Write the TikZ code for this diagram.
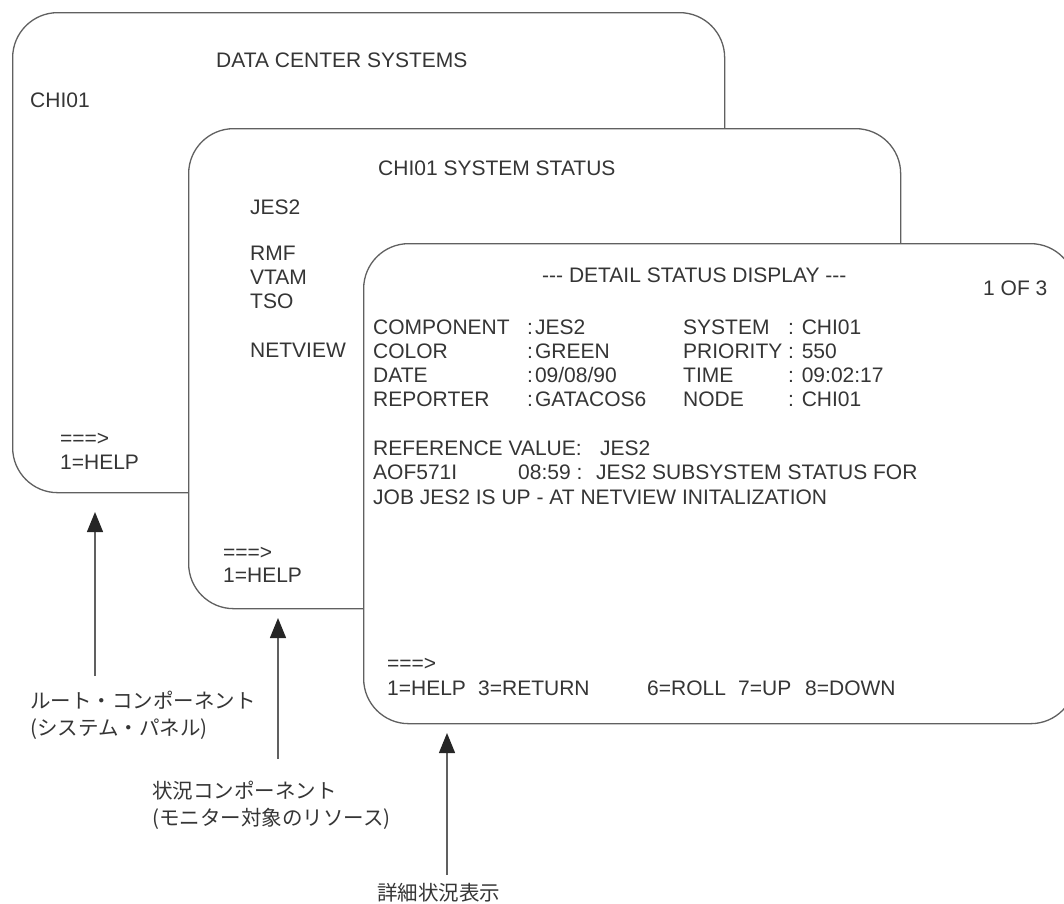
\documentclass[tikz,border=0pt]{standalone}
\usepackage{fontspec}
\setmainfont{Liberation Sans}
\newfontfamily\jpfont{Noto Sans CJK JP}
\usetikzlibrary{arrows.meta}
\definecolor{linegray}{HTML}{606060}
\definecolor{textgray}{HTML}{353535}
\tikzset{
  panel/.style = {draw=linegray, fill=white, line width=1.3pt, rounded corners=45pt, anchor=north west, inner sep=0pt, minimum width=712pt, minimum height=480pt},
  txt/.style = {anchor=base west, inner sep=0pt, text=textgray, font=\fontsize{21}{24}\selectfont},
  jtxt/.style = {anchor=north west, inner xsep=0pt, align=left, text=textgray, font=\jpfont\fontsize{20.5}{27}\selectfont},
  pointer/.style = {draw=linegray, line width=1.3pt, -{Triangle[length=20pt, width=16pt, color=black!85]}},
}
\newcommand{\fld}[2]{\makebox[#1][l]{#2}}
\newcommand{\dashes}{-\kern0pt-\kern0pt-}

\begin{document}
\begin{tikzpicture}[x=1pt, y=-1pt]
\useasboundingbox (0,0) rectangle (1064,903);

\node [panel] (rootpanel) at (12,12) {};
\node [txt] (roottitle) at (216,67.5) {DATA CENTER SYSTEMS};
\node [txt] (rootsys) at (30,107.5) {CHI01};
\node [txt] (rootcmd) at (60,445) {===>};
\node [txt] (rootkeys) at (60,469.5) {1=HELP};

\node [panel] (statuspanel) at (188,128) {};
\node [txt] (statustitle) at (378,175.5) {CHI01 SYSTEM STATUS};
\foreach \res/\yy in {JES2/214, RMF/260.5, VTAM/284.5, TSO/308.5, NETVIEW/357.5}
  \node [txt] (res-\res) at (250,\yy) {\res};
\node [txt] (statuscmd) at (223,559) {===>};
\node [txt] (statuskeys) at (223,582.5) {1=HELP};

\node [panel] (detailpanel) at (363,243) {};
\node [txt] (detailtitle) at (542,282.5) {\dashes{} DETAIL STATUS DISPLAY \dashes};
\node [txt] (detailpage) at (983,295.5) {1 OF 3};
\foreach \ka/\va/\kb/\vb [count=\i] in {COMPONENT/JES2/SYSTEM/CHI01, COLOR/GREEN/PRIORITY/550,
    DATE/{09/08/90}/TIME/09:02:17, REPORTER/GATACOS6/NODE/CHI01}
  \node [txt] (field-\i) at (373,310.5+24*\i) {\fld{154pt}{\ka}\fld{156pt}{:\kern2pt\va}\fld{105pt}{\kb}: \vb};
\node [txt] (refvalue) at (373,455.5) {\fld{227pt}{REFERENCE VALUE:}JES2};
\node [txt] (msgline1) at (373,479.5) {\fld{145pt}{AOF571I}\fld{78pt}{08:59 :}JES2 SUBSYSTEM STATUS FOR};
\node [txt] (msgline2) at (373,504.5) {JOB JES2 IS UP - AT NETVIEW INITALIZATION};
\node [txt] (detailcmd) at (387,670) {===>};
\node [txt] (detailkeys) at (387,695.5) {\fld{91pt}{1=HELP}\fld{169pt}{3=RETURN}\fld{91pt}{6=ROLL}\fld{67pt}{7=UP}8=DOWN};

\coordinate (roottip) at (95,512);
\coordinate (statustip) at (278,618);
\coordinate (detailtip) at (447,733);
\node [jtxt, inner ysep=15pt] (rootlbl) at (30,676) {ルート・コンポーネント\\(システム・パネル)};
\node [jtxt, inner ysep=22pt] (statuslbl) at (152,759) {状況コンポーネント\\(モニター対象のリソース)};
\node [jtxt, inner ysep=8pt] (detaillbl) at (377,875) {詳細状況表示};
\draw [pointer] (rootlbl.north -| roottip) -- (roottip);
\draw [pointer] (statuslbl.north -| statustip) -- (statustip);
\draw [pointer] (detaillbl.north -| detailtip) -- (detailtip);
\end{tikzpicture}
\end{document}
